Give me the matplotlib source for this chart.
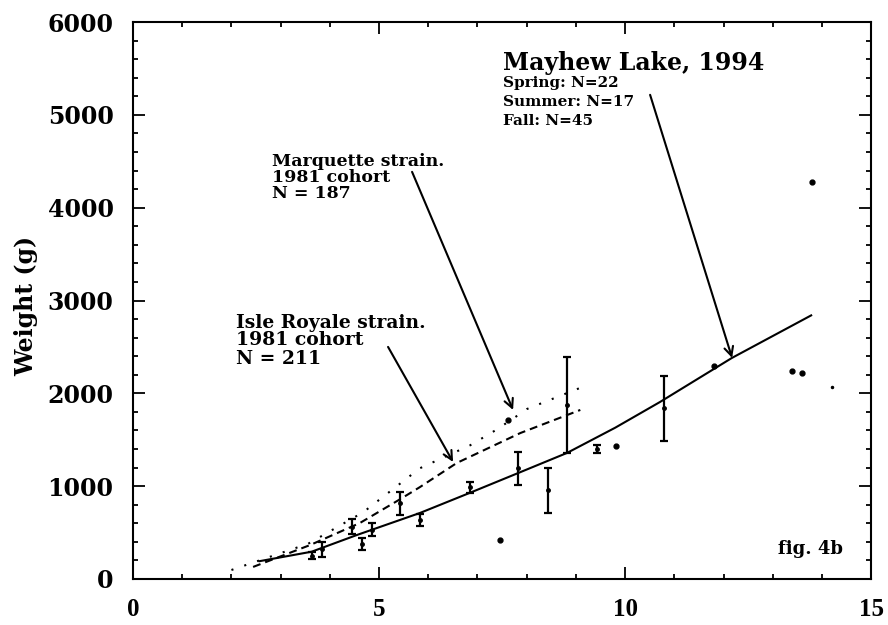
import matplotlib
matplotlib.use("Agg")
import matplotlib.pyplot as plt
from matplotlib.ticker import MultipleLocator

# ---- data ----
mayhew_x = [2.55, 3.63, 4.55, 5.83, 6.84, 7.83, 8.82, 9.8, 10.71, 12.17, 13.8]
mayhew_y = [190, 294, 474, 711, 927, 1142, 1358, 1630, 1907, 2381, 2845]

isle_x = [2.44, 3.6, 4.61, 5.43, 5.83, 6.58, 7.87, 9.09]
isle_y = [130, 366, 603, 860, 990, 1250, 1572, 1821]

marq_x = [2.0, 3.56, 4.68, 5.47, 5.83, 6.85, 7.36, 7.73, 8.0, 9.15]
marq_y = [97, 380, 720, 1045, 1193, 1440, 1600, 1730, 1830, 2072]

eb_x = [3.63, 3.85, 4.44, 4.65, 4.85, 5.43, 5.83, 6.84, 7.83, 8.44, 8.81, 9.42, 10.8]
eb_y = [250, 318, 564, 377, 530, 816, 636, 990, 1193, 959, 1870, 1400, 1840]
eb_lo = [212, 234, 485, 312, 463, 690, 574, 923, 1013, 715, 1355, 1355, 1490]
eb_hi = [294, 402, 643, 438, 600, 941, 697, 1049, 1372, 1200, 2389, 1444, 2188]

pt_x = [7.45, 7.63, 9.82, 11.81, 13.40, 13.60, 13.80, 14.20]
pt_y = [420, 1713, 1437, 2295, 2245, 2216, 4278, 2069]

x_ticks = [0, 5, 10, 15]
y_ticks = [0, 1000, 2000, 3000, 4000, 5000, 6000]

fig = plt.figure(figsize=(8.88, 6.25), dpi=100)
ax = fig.add_axes([0.1498, 0.0736, 0.8312, 0.8912])

ax.plot(mayhew_x, mayhew_y, color="black", lw=1.5, solid_capstyle="butt")
ax.plot(isle_x, isle_y, color="black", lw=1.5, linestyle=(0, (3.8, 2.4)))
ax.plot(marq_x, marq_y, color="black", lw=1.5, linestyle=(0, (1, 5.5)))

yerr = [[y - lo for y, lo in zip(eb_y, eb_lo)], [hi - y for y, hi in zip(eb_y, eb_hi)]]
ax.errorbar(eb_x, eb_y, yerr=yerr, fmt="o", color="black", ms=2.5,
            elinewidth=1.6, capsize=3.2, capthick=1.6)
ax.plot(pt_x[:-1], pt_y[:-1], "o", color="black", ms=3.5)
ax.plot(pt_x[-1:], pt_y[-1:], "o", color="black", ms=1.5)

ax.set_xlim(0, 15)
ax.set_ylim(0, 6000)
ax.set_xticks(x_ticks)
ax.set_yticks(y_ticks)
ax.xaxis.set_minor_locator(MultipleLocator(1))
ax.yaxis.set_minor_locator(MultipleLocator(200))
ax.tick_params(which="both", direction="in", top=True, right=True, width=1.3)
ax.tick_params(which="major", length=8.5)
ax.tick_params(which="minor", length=3.6)
ax.tick_params(axis="y", pad=14)
ax.tick_params(axis="x", pad=14)
for s in ax.spines.values():
    s.set_linewidth(1.5)

for lab in ax.get_yticklabels():
    lab.set_fontfamily("DejaVu Serif")
    lab.set_fontweight("bold")
    lab.set_fontsize(17)
for lab in ax.get_xticklabels():
    lab.set_fontfamily("Liberation Serif")
    lab.set_fontweight("bold")
    lab.set_fontsize(18)

ax.set_ylabel("Weight (g)", fontfamily="DejaVu Serif", fontweight="bold", fontsize=17)
ax.yaxis.set_label_coords(-0.128, 0.49)

def px2data(px, py):
    return (px - 133) / 49.2, (579 - py) / 0.0928

def line_text(px, py, s, size):
    x, y = px2data(px, py)
    ax.text(x, y, s, fontfamily="DejaVu Serif", fontweight="bold",
            fontsize=size, ha="left", va="baseline")

# Mayhew Lake
line_text(503, 70, "Mayhew Lake, 1994", 17)
line_text(503, 87, "Spring: N=22", 11)
line_text(503, 106, "Summer: N=17", 11)
line_text(503, 125, "Fall: N=45", 11)

# Marquette
line_text(272, 166, "Marquette strain.", 12.5)
line_text(272, 182, "1981 cohort", 12.5)
line_text(272, 198, "N = 187", 12.5)

# Isle Royale
line_text(236, 328, "Isle Royale strain.", 13.5)
line_text(236, 345, "1981 cohort", 13.5)
line_text(236, 364, "N = 211", 13.5)

fx, fy = px2data(843, 554)
ax.text(fx, fy, "fig. 4b", fontfamily="DejaVu Serif", fontweight="bold",
        fontsize=13, ha="right", va="baseline")

arrow = dict(arrowstyle="->", lw=1.5, color="black", mutation_scale=16,
             shrinkA=0, shrinkB=0)
ax.annotate("", xy=px2data(732, 358), xytext=px2data(650, 95), arrowprops=arrow)
ax.annotate("", xy=px2data(513, 410), xytext=px2data(412, 172), arrowprops=arrow)
ax.annotate("", xy=px2data(453, 462), xytext=px2data(388, 347), arrowprops=arrow)

fig.savefig("out.png", dpi=100)
